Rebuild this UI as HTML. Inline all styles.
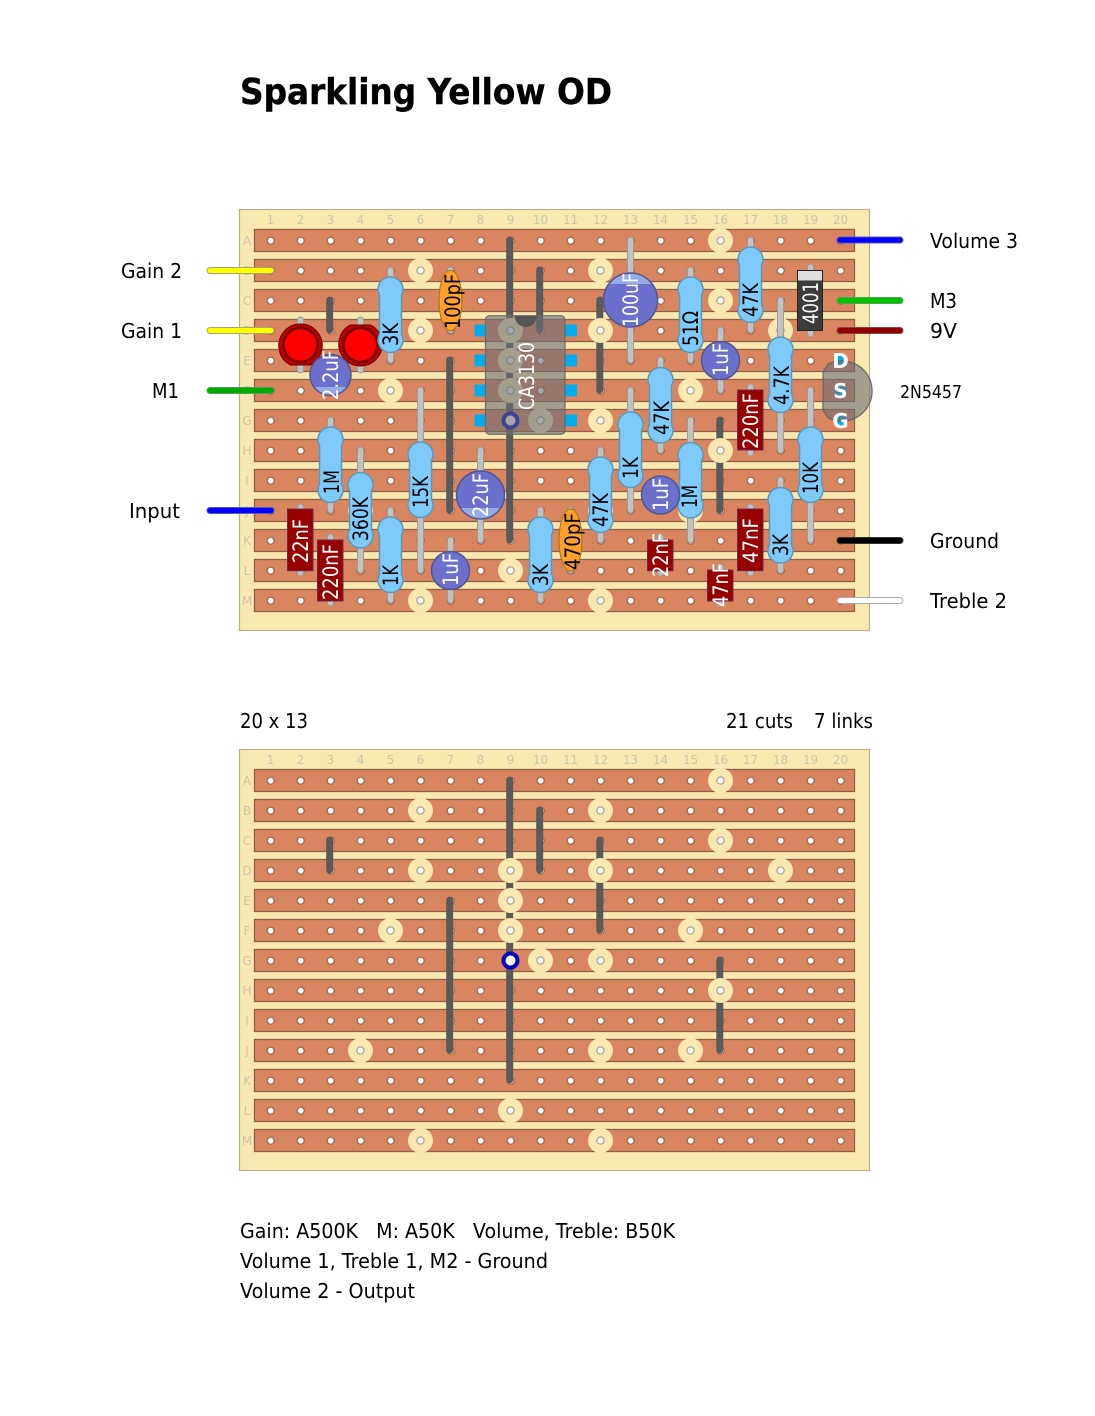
<!DOCTYPE html>
<html><head><meta charset="utf-8"><title>Sparkling Yellow OD</title>
<style>
html,body{margin:0;padding:0;background:#fff}
svg{display:block}
text{font-family:"DejaVu Sans","Liberation Sans",sans-serif}
.t{font-size:20px;fill:#000}
.n{font-size:12px;fill:#c9c5ac;text-anchor:middle}
.c{font-size:21px}
.w{fill:#fff}
.k{fill:#000}
.lead{fill:#c2c2c2;stroke:#9c9c9c;stroke-width:1}
.res{fill:#7ecbfb;stroke:#5b98ba;stroke-width:1.5}
.el{fill:#6b70cc;stroke:#52578f;stroke-width:1.5}
.band{fill:#95ace8}
.film{fill:#960000;stroke:#6e2a50;stroke-width:1}
.cer{fill:#ff9f2c;stroke:#ad7a12;stroke-width:1.2}
.pin{fill:#00aeef}
</style></head>
<body>
<svg xmlns="http://www.w3.org/2000/svg" width="1095" height="1416" viewBox="0 0 1095 1416">
<defs>
<pattern id="h" patternUnits="userSpaceOnUse" x="255.7" y="225.7" width="30" height="30">
  <circle cx="15" cy="15" r="3.5" fill="#fff" stroke="#8a5a45" stroke-width="1.1"/>
</pattern>
<path id="r" class="res" d="M-11 18.4A12.5 12.5 0 1 1 11 18.4V57.1A12.5 12.5 0 1 1 -11 57.1Z"/>
<g id="cut"><circle r="12.5" fill="#f9e9b0"/><circle r="3.6" fill="#fff" stroke="#a8a596" stroke-width="1.3"/></g>
<g id="base">
  <rect x="239.5" y="209.5" width="630" height="421" fill="#f9e9b0" stroke="#b9b08c" stroke-width="1.2"/>
  <g fill="#d98660" stroke="#8f5f4a" stroke-width="1.3">
    <rect x="254.5" y="229.5" width="600" height="22"/>
    <rect x="254.5" y="259.5" width="600" height="22"/>
    <rect x="254.5" y="289.5" width="600" height="22"/>
    <rect x="254.5" y="319.5" width="600" height="22"/>
    <rect x="254.5" y="349.5" width="600" height="22"/>
    <rect x="254.5" y="379.5" width="600" height="22"/>
    <rect x="254.5" y="409.5" width="600" height="22"/>
    <rect x="254.5" y="439.5" width="600" height="22"/>
    <rect x="254.5" y="469.5" width="600" height="22"/>
    <rect x="254.5" y="499.5" width="600" height="22"/>
    <rect x="254.5" y="529.5" width="600" height="22"/>
    <rect x="254.5" y="559.5" width="600" height="22"/>
    <rect x="254.5" y="589.5" width="600" height="22"/>
  </g>
  <rect x="255.7" y="225.7" width="600" height="390" fill="url(#h)"/>
  <g stroke="#5a5a5a" stroke-width="7" stroke-linecap="round" fill="none">
    <path d="M329.7 300V330M449.7 360V510M509.7 240V540M539.7 270V330M599.8 300V390M719.8 420V510"/>
  </g>
  <use href="#cut" x="720.5" y="240.5"/><use href="#cut" x="420.5" y="270.5"/><use href="#cut" x="600.5" y="270.5"/>
  <use href="#cut" x="720.5" y="300.5"/><use href="#cut" x="420.5" y="330.5"/><use href="#cut" x="510.5" y="330.5"/>
  <use href="#cut" x="600.5" y="330.5"/><use href="#cut" x="780.5" y="330.5"/><use href="#cut" x="510.5" y="360.5"/>
  <use href="#cut" x="390.5" y="390.5"/><use href="#cut" x="510.5" y="390.5"/><use href="#cut" x="690.5" y="390.5"/>
  <use href="#cut" x="540.5" y="420.5"/><use href="#cut" x="600.5" y="420.5"/><use href="#cut" x="720.5" y="450.5"/>
  <use href="#cut" x="360.5" y="510.5"/><use href="#cut" x="600.5" y="510.5"/><use href="#cut" x="690.5" y="510.5"/>
  <use href="#cut" x="510.5" y="570.5"/><use href="#cut" x="420.5" y="600.5"/><use href="#cut" x="600.5" y="600.5"/>
  <circle cx="510.5" cy="420.5" r="7" fill="#fff" stroke="#0000c0" stroke-width="4"/>
</g>
</defs>

<text x="240" y="104" style="font-size:36px;font-weight:bold;stroke:#000;stroke-width:.4" textLength="372" lengthAdjust="spacingAndGlyphs">Sparkling Yellow OD</text>

<!-- top board -->
<use href="#base"/>
<g class="n">
<text class="n" x="270.5" y="224">1</text><text class="n" x="300.5" y="224">2</text><text class="n" x="330.5" y="224">3</text><text class="n" x="360.5" y="224">4</text><text class="n" x="390.5" y="224">5</text><text class="n" x="420.5" y="224">6</text><text class="n" x="450.5" y="224">7</text><text class="n" x="480.5" y="224">8</text><text class="n" x="510.5" y="224">9</text><text class="n" x="540.5" y="224">10</text><text class="n" x="570.5" y="224">11</text><text class="n" x="600.5" y="224">12</text><text class="n" x="630.5" y="224">13</text><text class="n" x="660.5" y="224">14</text><text class="n" x="690.5" y="224">15</text><text class="n" x="720.5" y="224">16</text><text class="n" x="750.5" y="224">17</text><text class="n" x="780.5" y="224">18</text><text class="n" x="810.5" y="224">19</text><text class="n" x="840.5" y="224">20</text>
<text class="n" x="247" y="245">A</text><text class="n" x="247" y="275">B</text><text class="n" x="247" y="305">C</text><text class="n" x="247" y="335">D</text><text class="n" x="247" y="365">E</text><text class="n" x="247" y="395">F</text><text class="n" x="247" y="425">G</text><text class="n" x="247" y="455">H</text><text class="n" x="247" y="485">I</text><text class="n" x="247" y="515">J</text><text class="n" x="247" y="545">K</text><text class="n" x="247" y="575">L</text><text class="n" x="247" y="605">M</text>
</g>

<!-- IC -->
<g>
  <rect class="pin" x="474.5" y="324.5" width="11" height="12"/><rect class="pin" x="474.5" y="354.5" width="11" height="12"/><rect class="pin" x="474.5" y="384.5" width="11" height="12"/><rect class="pin" x="474.5" y="414.5" width="11" height="12"/>
  <rect class="pin" x="565" y="324.5" width="12" height="12"/><rect class="pin" x="565" y="354.5" width="12" height="12"/><rect class="pin" x="565" y="384.5" width="12" height="12"/><rect class="pin" x="565" y="414.5" width="12" height="12"/>
  <rect x="485.5" y="315.7" width="79.5" height="118.6" rx="4" fill="#6a6e76" fill-opacity=".6" stroke="#6a6a66" stroke-width="1.2"/>
  <path d="M514.7 316A11 11 0 0 0 536.7 316Z" fill="#555"/>
  <text class="c w" transform="translate(534,410) rotate(-90)" textLength="68" lengthAdjust="spacingAndGlyphs">CA3130</text>
</g>

<!-- leads -->
<g class="lead">
<rect class="lead" x="387.5" y="267" width="6" height="96" rx="3"/>
<rect class="lead" x="747.5" y="237" width="6" height="96" rx="3"/>
<rect class="lead" x="687.5" y="267" width="6" height="96" rx="3"/>
<rect class="lead" x="777.5" y="297" width="6" height="156" rx="3"/>
<rect class="lead" x="657.5" y="357" width="6" height="96" rx="3"/>
<rect class="lead" x="627.5" y="387" width="6" height="126" rx="3"/>
<rect class="lead" x="597.5" y="447" width="6" height="96" rx="3"/>
<rect class="lead" x="687.5" y="417" width="6" height="126" rx="3"/>
<rect class="lead" x="807.5" y="387" width="6" height="156" rx="3"/>
<rect class="lead" x="777.5" y="477" width="6" height="96" rx="3"/>
<rect class="lead" x="327.5" y="417" width="6" height="96" rx="3"/>
<rect class="lead" x="357.5" y="447" width="6" height="126" rx="3"/>
<rect class="lead" x="417.5" y="387" width="6" height="186" rx="3"/>
<rect class="lead" x="387.5" y="507" width="6" height="96" rx="3"/>
<rect class="lead" x="537.5" y="507" width="6" height="96" rx="3"/>
<rect class="lead" x="627.5" y="237" width="6" height="126" rx="3"/>
<rect class="lead" x="717.5" y="327" width="6" height="66" rx="3"/>
<rect class="lead" x="477.5" y="447" width="6" height="96" rx="3"/>
<rect class="lead" x="657.5" y="477" width="6" height="36" rx="3"/>
<rect class="lead" x="447.5" y="537" width="6" height="66" rx="3"/>
<rect class="lead" x="297.5" y="504" width="6" height="72" rx="3"/>
<rect class="lead" x="327.5" y="534" width="6" height="72" rx="3"/>
<rect class="lead" x="747.5" y="384" width="6" height="72" rx="3"/>
<rect class="lead" x="657.5" y="534" width="6" height="42" rx="3"/>
<rect class="lead" x="747.5" y="504" width="6" height="72" rx="3"/>
<rect class="lead" x="717.5" y="564" width="6" height="42" rx="3"/>
<rect class="lead" x="447.5" y="267" width="6" height="66" rx="3"/>
<rect class="lead" x="567.5" y="507" width="6" height="66" rx="3"/>
<rect class="lead" x="297.5" y="317" width="6" height="56" rx="3"/>
<rect class="lead" x="357.5" y="317" width="6" height="56" rx="3"/>
<rect class="lead" x="807.5" y="264" width="6" height="73" rx="3"/>
</g>

<!-- LEDs -->
<g>
  <path d="M290.5 365A21.7 21.7 0 1 1 310.5 365Z" fill="#c00000" stroke="#5e0000" stroke-width="1"/>
  <circle cx="300.5" cy="345" r="18.5" fill="#780000"/><circle cx="300.5" cy="345" r="15.7" fill="#ff0000"/>
  <path d="M350.5 325A21.7 21.7 0 1 0 370.5 325Z" fill="#c00000" stroke="#5e0000" stroke-width="1"/>
  <circle cx="360.5" cy="345" r="18.5" fill="#780000"/><circle cx="360.5" cy="345" r="15.7" fill="#ff0000"/>
</g>

<!-- resistors -->
<use href="#r" x="390.5" y="277"/><use href="#r" x="750.5" y="247"/><use href="#r" x="690.5" y="277"/><use href="#r" x="780.5" y="337"/>
<use href="#r" x="660.5" y="367.5"/><use href="#r" x="630.5" y="412"/><use href="#r" x="600.5" y="457"/><use href="#r" x="690.5" y="442.5"/>
<use href="#r" x="810.5" y="427"/><use href="#r" x="780.5" y="487.5"/><use href="#r" x="330.5" y="427"/><use href="#r" x="360.5" y="472.5"/>
<use href="#r" x="420.5" y="442"/><use href="#r" x="390.5" y="517"/><use href="#r" x="540.5" y="517"/>

<g class="c k">
<text class="c k" transform="translate(398,346) rotate(-90)" textLength="23" lengthAdjust="spacingAndGlyphs">3K</text>
<text class="c k" transform="translate(758,317) rotate(-90)" textLength="34" lengthAdjust="spacingAndGlyphs">47K</text>
<text class="c k" transform="translate(698,346) rotate(-90)" textLength="35" lengthAdjust="spacingAndGlyphs">51Ω</text>
<text class="c k" transform="translate(789,405) rotate(-90)" textLength="39" lengthAdjust="spacingAndGlyphs">4.7K</text>
<text class="c k" transform="translate(669,435) rotate(-90)" textLength="34" lengthAdjust="spacingAndGlyphs">47K</text>
<text class="c k" transform="translate(638,479) rotate(-90)" textLength="22" lengthAdjust="spacingAndGlyphs">1K</text>
<text class="c k" transform="translate(608,527) rotate(-90)" textLength="34" lengthAdjust="spacingAndGlyphs">47K</text>
<text class="c k" transform="translate(697,508) rotate(-90)" textLength="23" lengthAdjust="spacingAndGlyphs">1M</text>
<text class="c k" transform="translate(818,494) rotate(-90)" textLength="32" lengthAdjust="spacingAndGlyphs">10K</text>
<text class="c k" transform="translate(788,556) rotate(-90)" textLength="22" lengthAdjust="spacingAndGlyphs">3K</text>
<text class="c k" transform="translate(339,494) rotate(-90)" textLength="24" lengthAdjust="spacingAndGlyphs">1M</text>
<text class="c k" transform="translate(368,541) rotate(-90)" textLength="44" lengthAdjust="spacingAndGlyphs">360K</text>
<text class="c k" transform="translate(428,508) rotate(-90)" textLength="32" lengthAdjust="spacingAndGlyphs">15K</text>
<text class="c k" transform="translate(398,586) rotate(-90)" textLength="21" lengthAdjust="spacingAndGlyphs">1K</text>
<text class="c k" transform="translate(548,586) rotate(-90)" textLength="22" lengthAdjust="spacingAndGlyphs">3K</text>
</g>

<!-- electrolytics -->
<clipPath id="c1"><rect x="300" y="387" width="60" height="20"/></clipPath>
<clipPath id="c2"><rect x="600" y="270" width="60" height="14"/></clipPath>
<clipPath id="c3"><rect x="450" y="508" width="60" height="14"/></clipPath>
<circle class="el" cx="330.5" cy="375" r="20.5"/><circle class="band" cx="330.5" cy="375" r="19.7" clip-path="url(#c1)"/>
<circle class="el" cx="630.5" cy="300" r="27"/><circle class="band" cx="630.5" cy="300" r="26.2" clip-path="url(#c2)"/>
<circle class="el" cx="720.5" cy="360.5" r="19"/>
<circle class="el" cx="450.5" cy="570.5" r="19"/>
<circle class="el" cx="480.5" cy="495" r="24"/><circle class="band" cx="480.5" cy="495" r="23.2" clip-path="url(#c3)"/>
<circle class="el" cx="660.5" cy="495" r="19"/>
<g class="c w">
<text class="c w" transform="translate(338,400) rotate(-90)" textLength="50" lengthAdjust="spacingAndGlyphs">2.2uF</text>
<text class="c w" transform="translate(638,327) rotate(-90)" textLength="54" lengthAdjust="spacingAndGlyphs">100uF</text>
<text class="c w" transform="translate(728,376) rotate(-90)" textLength="33" lengthAdjust="spacingAndGlyphs">1uF</text>
<text class="c w" transform="translate(458,586) rotate(-90)" textLength="33" lengthAdjust="spacingAndGlyphs">1uF</text>
<text class="c w" transform="translate(488,517) rotate(-90)" textLength="44" lengthAdjust="spacingAndGlyphs">22uF</text>
<text class="c w" transform="translate(668,511) rotate(-90)" textLength="33" lengthAdjust="spacingAndGlyphs">1uF</text>
</g>

<!-- film caps -->
<rect class="film" x="287.5" y="509" width="25.5" height="61.7"/>
<rect class="film" x="317.5" y="540" width="25.5" height="61"/>
<rect class="film" x="737.5" y="390" width="25.5" height="60"/>
<rect class="film" x="647.5" y="540" width="25.5" height="30.7"/>
<rect class="film" x="737.5" y="509" width="25.5" height="61.7"/>
<rect class="film" x="707.5" y="570" width="25.5" height="31"/>
<g class="c w">
<text class="c w" transform="translate(308,563) rotate(-90)" textLength="44" lengthAdjust="spacingAndGlyphs">22nF</text>
<text class="c w" transform="translate(338,600) rotate(-90)" textLength="56" lengthAdjust="spacingAndGlyphs">220nF</text>
<text class="c w" transform="translate(758,449) rotate(-90)" textLength="56" lengthAdjust="spacingAndGlyphs">220nF</text>
<text class="c w" transform="translate(668,577) rotate(-90)" textLength="44" lengthAdjust="spacingAndGlyphs">22nF</text>
<text class="c w" transform="translate(758,563) rotate(-90)" textLength="45" lengthAdjust="spacingAndGlyphs">47nF</text>
<text class="c w" transform="translate(728,607) rotate(-90)" textLength="44" lengthAdjust="spacingAndGlyphs">47nF</text>
</g>

<!-- ceramic caps -->
<ellipse class="cer" cx="450.5" cy="300.5" rx="11.5" ry="30.2"/>
<ellipse class="cer" cx="570.5" cy="540" rx="11.5" ry="31"/>
<text class="c k" transform="translate(460,329) rotate(-90)" textLength="55" lengthAdjust="spacingAndGlyphs">100pF</text>
<text class="c k" transform="translate(580,570) rotate(-90)" textLength="57" lengthAdjust="spacingAndGlyphs">470pF</text>

<!-- diode -->
<rect x="797.5" y="270.5" width="25" height="60" fill="#3c3c3c" stroke="#222" stroke-width="1"/>
<rect x="798" y="271" width="24" height="9.5" fill="#dedede"/>
<text class="c w" transform="translate(818,324) rotate(-90)" textLength="42" lengthAdjust="spacingAndGlyphs">4001</text>

<!-- transistor -->
<circle class="pin" cx="840.5" cy="360.5" r="6"/><circle class="pin" cx="840.5" cy="390.5" r="6"/><circle class="pin" cx="840.5" cy="420.5" r="6"/>
<path d="M823 372L828 364.2A30.2 30.2 0 1 1 828 417.8L823 410Z" fill="#6a6e76" fill-opacity=".6" stroke="#666" stroke-width="1.2"/>
<g style="font-weight:bold;font-size:20px" fill="#fff" text-anchor="middle">
<text x="840.5" y="368">D</text><text x="840.5" y="398">S</text><text x="840.5" y="428">G</text>
</g>
<text x="900" y="398" style="font-size:18px" textLength="62" lengthAdjust="spacingAndGlyphs">2N5457</text>

<!-- wires -->
<rect x="207" y="267.5" width="67" height="6" rx="3" fill="#ffff00" stroke="#a8a86a"/>
<rect x="207" y="327.5" width="67" height="6" rx="3" fill="#ffff00" stroke="#a8a86a"/>
<rect x="207" y="387.5" width="67" height="6" rx="3" fill="#00aa00" stroke="#55a055"/>
<rect x="207" y="507.5" width="67" height="6" rx="3" fill="#0000ff" stroke="#5555c0"/>
<rect x="837" y="237" width="66" height="6" rx="3" fill="#0000ff" stroke="#5555c0"/>
<rect x="837" y="297.5" width="66" height="6" rx="3" fill="#00c000" stroke="#55a055"/>
<rect x="837" y="327.5" width="66" height="6" rx="3" fill="#900000" stroke="#904040"/>
<rect x="837" y="537.5" width="66" height="6" rx="3" fill="#000" stroke="#333"/>
<rect x="837" y="597.5" width="66" height="6" rx="3" fill="#fff" stroke="#aaa"/>

<!-- labels -->
<text class="t" x="121" y="278" textLength="61" lengthAdjust="spacingAndGlyphs">Gain 2</text>
<text class="t" x="121" y="338" textLength="61" lengthAdjust="spacingAndGlyphs">Gain 1</text>
<text class="t" x="152" y="398" textLength="27" lengthAdjust="spacingAndGlyphs">M1</text>
<text class="t" x="129" y="518" textLength="51" lengthAdjust="spacingAndGlyphs">Input</text>
<text class="t" x="930" y="248" textLength="88" lengthAdjust="spacingAndGlyphs">Volume 3</text>
<text class="t" x="930" y="308" textLength="27" lengthAdjust="spacingAndGlyphs">M3</text>
<text class="t" x="930" y="338" textLength="27" lengthAdjust="spacingAndGlyphs">9V</text>
<text class="t" x="930" y="548" textLength="69" lengthAdjust="spacingAndGlyphs">Ground</text>
<text class="t" x="930" y="608" textLength="77" lengthAdjust="spacingAndGlyphs">Treble 2</text>

<text class="t" x="240" y="728" textLength="68" lengthAdjust="spacingAndGlyphs">20 x 13</text>
<text class="t" x="726" y="728" textLength="67" lengthAdjust="spacingAndGlyphs">21 cuts</text>
<text class="t" x="814" y="728" textLength="59" lengthAdjust="spacingAndGlyphs">7 links</text>

<!-- bottom board -->
<use href="#base" y="540"/>
<g class="n">
<text class="n" x="270.5" y="764">1</text><text class="n" x="300.5" y="764">2</text><text class="n" x="330.5" y="764">3</text><text class="n" x="360.5" y="764">4</text><text class="n" x="390.5" y="764">5</text><text class="n" x="420.5" y="764">6</text><text class="n" x="450.5" y="764">7</text><text class="n" x="480.5" y="764">8</text><text class="n" x="510.5" y="764">9</text><text class="n" x="540.5" y="764">10</text><text class="n" x="570.5" y="764">11</text><text class="n" x="600.5" y="764">12</text><text class="n" x="630.5" y="764">13</text><text class="n" x="660.5" y="764">14</text><text class="n" x="690.5" y="764">15</text><text class="n" x="720.5" y="764">16</text><text class="n" x="750.5" y="764">17</text><text class="n" x="780.5" y="764">18</text><text class="n" x="810.5" y="764">19</text><text class="n" x="840.5" y="764">20</text>
<text class="n" x="247" y="785">A</text><text class="n" x="247" y="815">B</text><text class="n" x="247" y="845">C</text><text class="n" x="247" y="875">D</text><text class="n" x="247" y="905">E</text><text class="n" x="247" y="935">F</text><text class="n" x="247" y="965">G</text><text class="n" x="247" y="995">H</text><text class="n" x="247" y="1025">I</text><text class="n" x="247" y="1055">J</text><text class="n" x="247" y="1085">K</text><text class="n" x="247" y="1115">L</text><text class="n" x="247" y="1145">M</text>
</g>

<text class="t" x="240" y="1238" textLength="435" lengthAdjust="spacingAndGlyphs" xml:space="preserve">Gain: A500K   M: A50K   Volume, Treble: B50K</text>
<text class="t" x="240" y="1268" textLength="308" lengthAdjust="spacingAndGlyphs">Volume 1, Treble 1, M2 - Ground</text>
<text class="t" x="240" y="1298" textLength="175" lengthAdjust="spacingAndGlyphs">Volume 2 - Output</text>
</svg>
</body></html>
